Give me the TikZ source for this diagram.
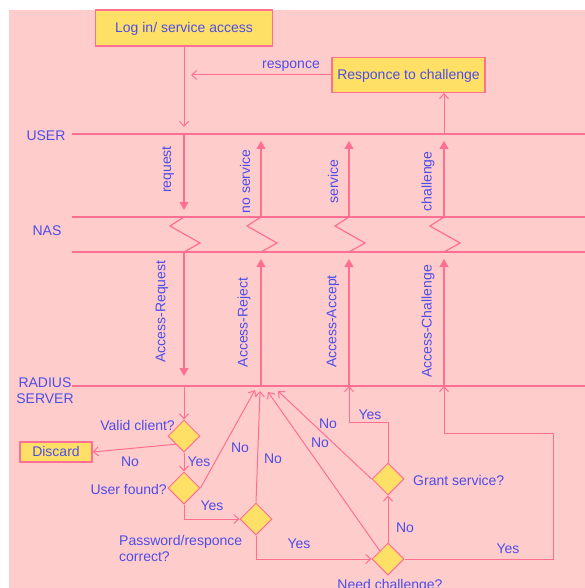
\documentclass[tikz,border=0pt]{standalone}
\usepackage{fontspec}
\setmainfont{Liberation Sans}
\usepackage{xcolor}
\usetikzlibrary{arrows.meta, shapes.geometric, positioning}

\definecolor{bgpink}{HTML}{FFCCCC}
\definecolor{lnpink}{HTML}{FF6F91}
\definecolor{txtblue}{HTML}{4D4DE8}
\definecolor{boxyel}{HTML}{FFE066}

\begin{document}
\begin{tikzpicture}[x=1pt, y=-1pt, font=\fontsize{14}{16}\selectfont,
    box/.style={rectangle, draw=lnpink, fill=boxyel, line width=1.2pt, text=txtblue, inner sep=0pt, text height=10pt, text depth=1pt},
    dec/.style={diamond, draw=lnpink, fill=boxyel, line width=1pt, minimum width=32pt, minimum height=32pt, inner sep=0pt},
    lbl/.style={text=txtblue, inner sep=0pt, yshift=-1.5pt},
    lane/.style={draw=lnpink, line width=1.2pt},
    flow/.style={draw=lnpink, line width=1pt, -{Straight Barb[length=5pt,width=9pt]}},
    msg/.style={draw=lnpink, line width=1.2pt, -{Triangle[length=8pt,width=9pt]}, shorten >=7pt}]

        \useasboundingbox (0,0) rectangle (585,588);
        \fill[bgpink] (9,10) rectangle (585,588);

        % lanes
        \node[lbl] (user) at (46,134) {USER};
        \node[lbl] (nas) at (47,229) {NAS};
        \node[lbl, align=center] (radius) at (45,389) {RADIUS\\SERVER};
        \foreach \y in {134,217,252,386}
            \draw[lane] (72,\y) -- (585,\y);

        \foreach \n/\x in {a/184,b/261,c/349,d/444} {
            \coordinate (\n u) at (\x,134);
            \coordinate (\n t) at (\x,217);
            \coordinate (\n b) at (\x,252);
            \coordinate (\n r) at (\x,386);
        }

        % user side
        \node[box, minimum width=177pt, minimum height=36pt] (login) at (184,28) {Log in/ service access};
        \node[box, minimum width=153pt, minimum height=35pt] (resp) at (408.5,75) {Responce to challenge};

        \draw[flow, shorten >=7pt] (login) -- (au);
        \draw[flow, shorten >=7pt] (resp) -- (resp -| au);
        \node[lbl] at (291,65) {responce};
        \draw[flow] (du) -- (du |- resp.south);

        % messages
        \draw[msg] (au) -- (at);
        \draw[msg] (bt) -- (bu);
        \draw[msg] (ct) -- (cu);
        \draw[msg] (dt) -- (du);
        \draw[msg, shorten >=10pt] (ab) -- (ar);
        \draw[msg] (br) -- (bb);
        \draw[msg] (cr) -- (cb);
        \draw[msg] (dr) -- (db);

        \foreach \n in {a,b,c,d}
            \draw[lane] (\n t) -- ++(-14,9) -- ++(30,17) -- (\n b);

        \node[lbl, rotate=90] at (168,168) {request};
        \node[lbl, rotate=90] at (245,180) {no service};
        \node[lbl, rotate=90] at (333,180) {service};
        \node[lbl, rotate=90] at (428,180) {challenge};
        \node[lbl, rotate=90] at (162,310) {Access-Request};
        \node[lbl, rotate=90] at (244,321) {Access-Reject};
        \node[lbl, rotate=90] at (333,320) {Access-Accept};
        \node[lbl, rotate=90] at (428,320) {Access-Challenge};

        % server decisions
        \node[dec] (vc) at (184,436) {};
        \node[lbl, anchor=east] at (175,424) {Valid client?};
        \node[box, minimum width=72pt, minimum height=20pt] (discard) at (56,452) {Discard};
        \node[dec] (uf) at (184,488) {};
        \node[lbl, anchor=east] at (167,488) {User found?};
        \node[dec] (pw) at (256,519) {};
        \node[lbl, anchor=west, align=left] at (119,547) {Password/responce\\correct?};
        \node[dec] (gs) at (388,479) {};
        \node[lbl, anchor=west] at (413,479) {Grant service?};
        \node[dec] (nc) at (388,559) {};
        \node[lbl] at (390,584) {Need challenge?};

        \coordinate (h1) at (255,390);
        \coordinate (h2) at (260,391);
        \coordinate (h3) at (268,392);
        \coordinate (h4) at (278,391);
        \coordinate (loop) at (553,433);

        \draw[flow] (ar) -- (vc.north);
        \draw[flow] (vc.south west) -- (discard.east);
        \node[lbl] at (130,460) {No};
        \draw[flow] (vc.south) -- (uf.north);
        \node[lbl] at (199,460) {Yes};
        \draw[flow] (uf.east) -- (h1);
        \node[lbl] at (240,446) {No};
        \draw[flow] (uf.south) |- (pw.west);
        \node[lbl] at (212,504) {Yes};
        \draw[flow] (pw.north) -- (h2);
        \node[lbl] at (273,457) {No};
        \draw[flow] (pw.south) |- (nc.west);
        \node[lbl] at (299,542) {Yes};
        \draw[flow] (nc.north) -- (gs.south);
        \node[lbl] at (405,526) {No};
        \draw[flow] (nc.north west) -- (h3);
        \node[lbl] at (320,441) {No};
        \draw[flow] (gs.west) -- (h4);
        \node[lbl] at (328,422) {No};
        \draw[flow] (gs.north) -- ++(0,-40) -| (cr);
        \node[lbl] at (370,413) {Yes};
        \draw[flow] (nc.east) -| (loop) -- (loop -| dr) -- (dr);
        \node[lbl] at (508,547) {Yes};

    \end{tikzpicture}
\end{document}
